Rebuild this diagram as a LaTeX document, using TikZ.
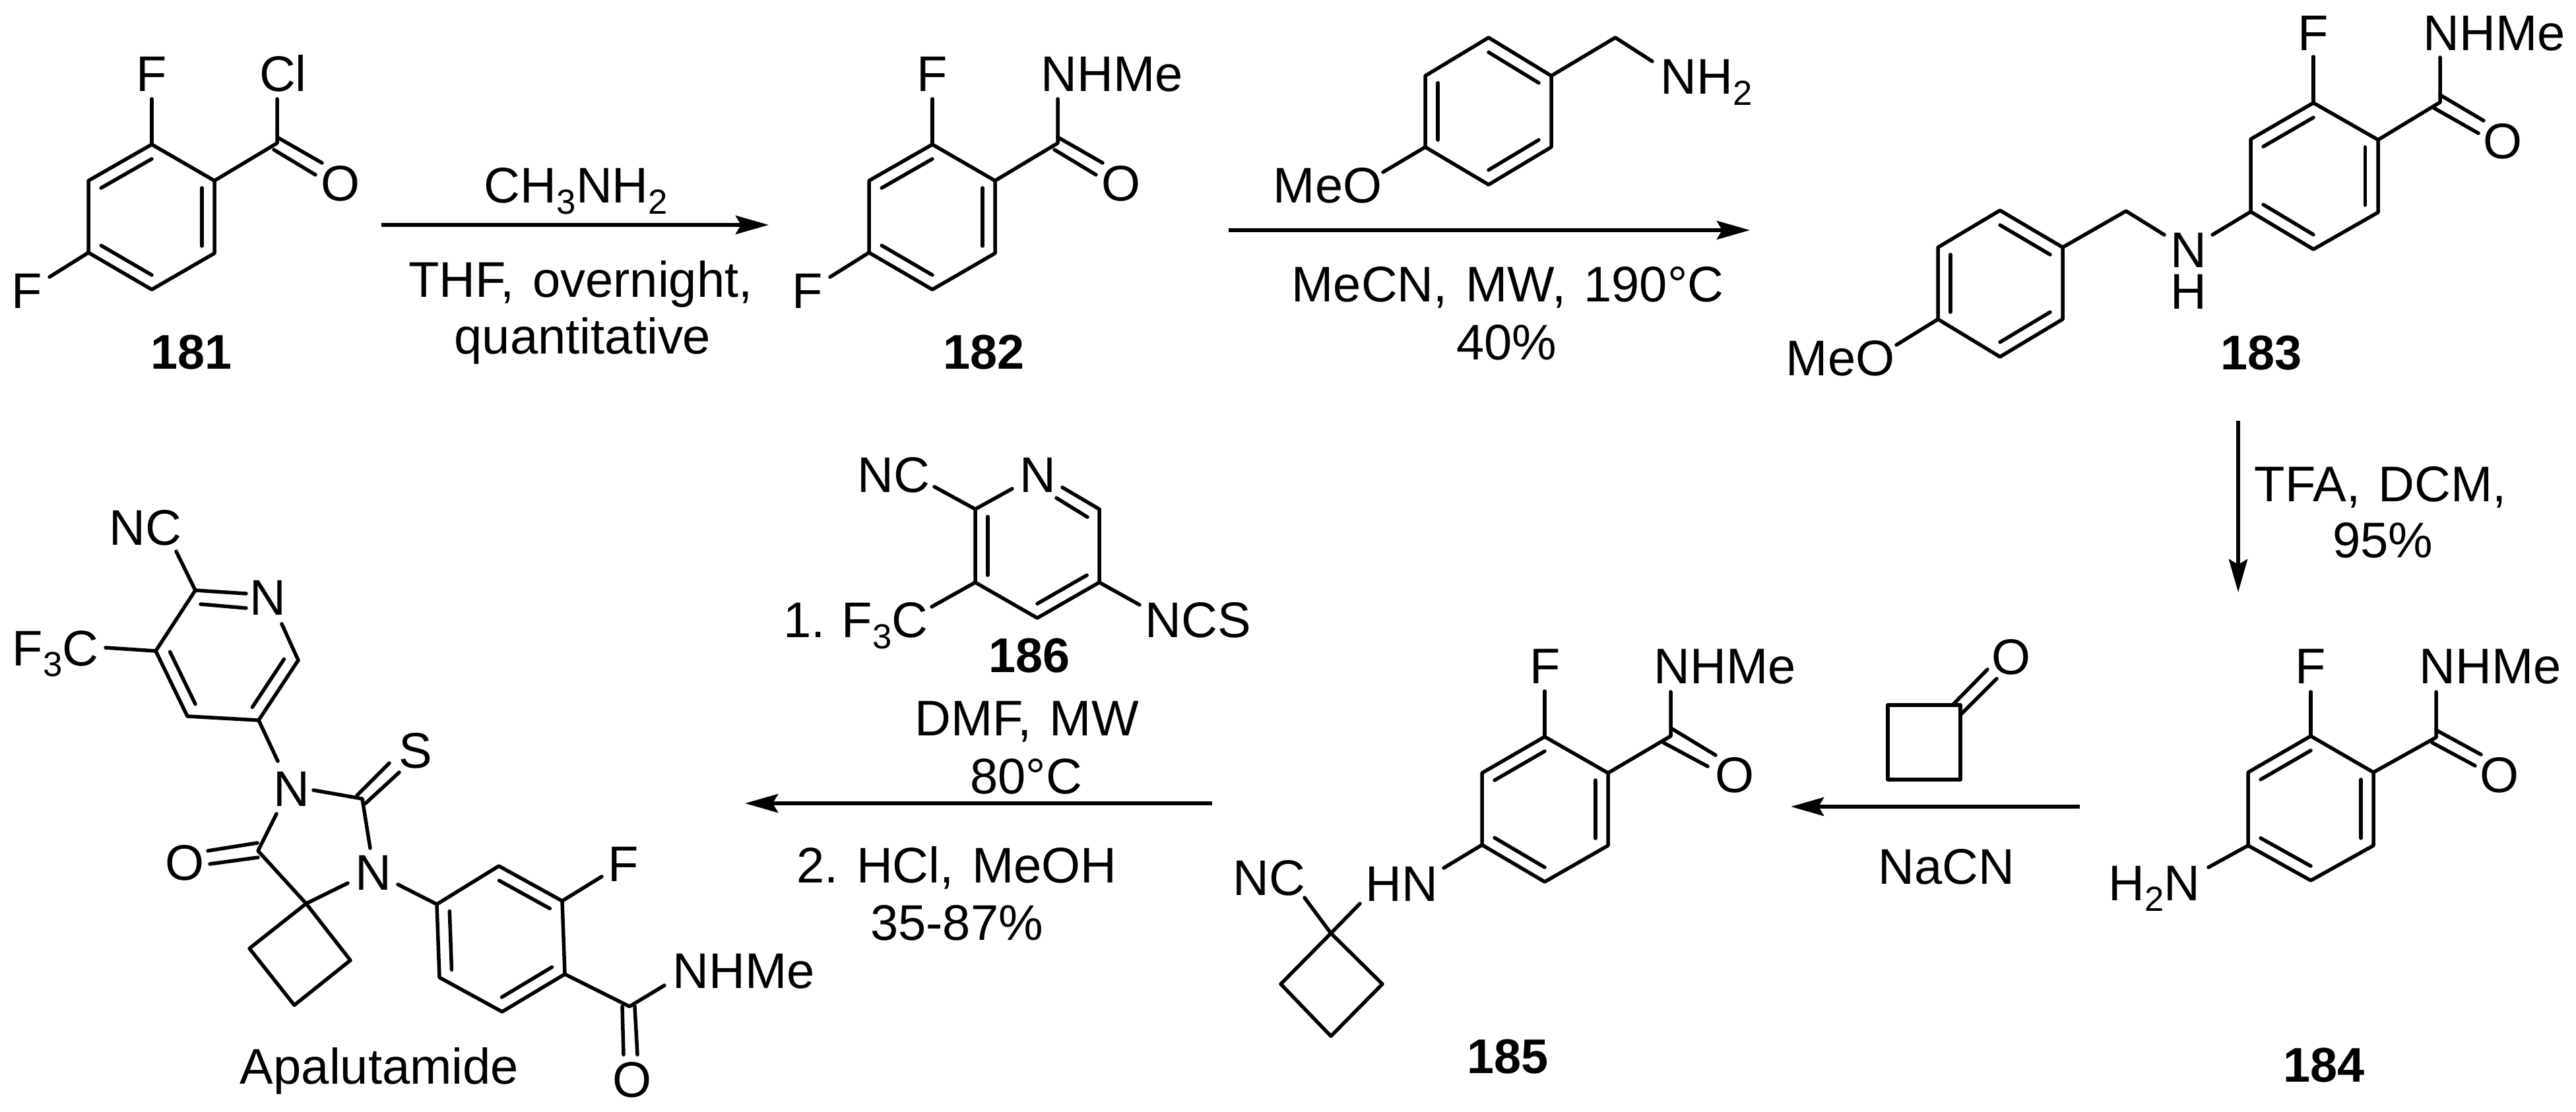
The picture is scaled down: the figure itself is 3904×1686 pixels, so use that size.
\documentclass[tikz,border=0pt]{standalone}
\usepackage{fontspec}
\setmainfont{Liberation Sans}
\usetikzlibrary{arrows.meta,calc}

\tikzset{
	bond/.style={line width=0.055cm, line cap=round, line join=round},
	rxn/.style={line width=0.06cm, -{Stealth[length=0.5cm,width=0.28cm,inset=0.08cm]}},
	txt/.style={inner sep=0pt, anchor=base, font=\fontsize{21.6}{21.6}\selectfont},
	txtl/.style={txt, anchor=base west, xshift=-0.05cm},
	cpd/.style={txt, font=\fontsize{21}{21}\selectfont\bfseries}
}
\newcommand{\sbs}[1]{\raisebox{-0.22em}{\fontsize{15}{15}\selectfont #1}}
\newcommand{\gp}{\hspace{0.36em}}
% six ring atoms, clockwise from the top
\newcommand{\hexa}[7]{
	\coordinate (#11) at (#2); \coordinate (#12) at (#3); \coordinate (#13) at (#4);
	\coordinate (#14) at (#5); \coordinate (#15) at (#6); \coordinate (#16) at (#7);
	\coordinate (#1c) at ($(#11)!0.5!(#14)$);
}
\newcommand{\ringbonds}[1]{\draw[bond] (#11) -- (#12) -- (#13) -- (#14) -- (#15) -- (#16) -- cycle;}
\newcommand{\inner}[3]{\draw[bond] ($(#1#2)!0.2!(#1c)$) -- ($(#1#3)!0.2!(#1c)$);}

\begin{document}
\begin{tikzpicture}[x=0.01cm, y=-0.01cm]
	\useasboundingbox (0,0) rectangle (3904,1686);

	% 181
	\hexa{a}{230,219}{325,274}{325,384}{230,439}{134,383}{134,274}
	\ringbonds{a}
	\inner{a}{6}{1} \inner{a}{2}{3} \inner{a}{4}{5}
	\node[txt] (aF) at (230,139) {F};
	\node[txt] (aCl) at (429,139) {Cl};
	\node[txt] (aO) at (516,305) {O};
	\node[txt] (aF2) at (41,468) {F};
	\node[cpd] (n181) at (290,560) {181};
	\coordinate (aCO) at (420,217);
	\coordinate (aFe) at (230,150); \coordinate (aCle) at (420,150); \coordinate (aF2e) at (75,420);
	\coordinate (aO1s) at (420,208); \coordinate (aO1e) at (488,247);
	\coordinate (aO2s) at (415,227); \coordinate (aO2e) at (478,265);
	\draw[bond] (a1) -- (aFe);
	\draw[bond] (a5) -- (aF2e);
	\draw[bond] (a2) -- (aCO) -- (aCle);
	\draw[bond] (aO1s) -- (aO1e);
	\draw[bond] (aO2s) -- (aO2e);

	\coordinate (r1s) at (578,341); \coordinate (r1e) at (1165,341);
	\draw[rxn] (r1s) -- (r1e);
	\node[txt] (r1top) at (873,308) {CH\sbs{3}NH\sbs{2}};
	\node[txt] (r1mid) at (880,451) {THF,\gp overnight,};
	\node[txt] (r1low) at (883,537) {quantitative};

	% 182
	\hexa{b}{1413,219}{1508,274}{1508,384}{1413,439}{1317,383}{1317,274}
	\ringbonds{b}
	\inner{b}{6}{1} \inner{b}{2}{3} \inner{b}{4}{5}
	\node[txt] (bF) at (1413,139) {F};
	\node[txtl] (bNH) at (1582,139) {NHMe};
	\node[txt] (bO) at (1699,305) {O};
	\node[txt] (bF2) at (1224,468) {F};
	\node[cpd] (n182) at (1491,560) {182};
	\coordinate (bCO) at (1603,217);
	\coordinate (bFe) at (1413,150); \coordinate (bNe) at (1603,150); \coordinate (bF2e) at (1258,420);
	\coordinate (bO1s) at (1603,208); \coordinate (bO1e) at (1671,247);
	\coordinate (bO2s) at (1598,227); \coordinate (bO2e) at (1661,265);
	\draw[bond] (b1) -- (bFe);
	\draw[bond] (b5) -- (bF2e);
	\draw[bond] (b2) -- (bCO) -- (bNe);
	\draw[bond] (bO1s) -- (bO1e);
	\draw[bond] (bO2s) -- (bO2e);

	% amine over the second arrow
	\hexa{m}{2256,57}{2351,115}{2351,223}{2256,280}{2160,223}{2160,115}
	\ringbonds{m}
	\inner{m}{1}{2} \inner{m}{3}{4} \inner{m}{5}{6}
	\node[txtl] (mNH) at (2521,143) {NH\sbs{2}};
	\node[txtl] (mMeO) at (1934,308) {MeO};
	\coordinate (mCH) at (2448,57); \coordinate (mNe) at (2504,93); \coordinate (mOe) at (2096,261);
	\draw[bond] (m2) -- (mCH) -- (mNe);
	\draw[bond] (m5) -- (mOe);

	\coordinate (r2s) at (1862,349); \coordinate (r2e) at (2652,349);
	\draw[rxn] (r2s) -- (r2e);
	\node[txt] (r2mid) at (2285,458) {MeCN,\gp MW,\gp 190°C};
	\node[txt] (r2low) at (2283,546) {40\%};

	% 183
	\hexa{c}{3506,156}{3604,212}{3604,322}{3506,378}{3411,321}{3411,211}
	\ringbonds{c}
	\inner{c}{6}{1} \inner{c}{2}{3} \inner{c}{4}{5}
	\hexa{d}{3031,319}{3126,375}{3126,484}{3031,541}{2937,484}{2937,375}
	\ringbonds{d}
	\inner{d}{1}{2} \inner{d}{3}{4} \inner{d}{5}{6}
	\node[txt] (cF) at (3506,77) {F};
	\node[txtl] (cNH) at (3677,77) {NHMe};
	\node[txt] (cO) at (3793,241) {O};
	\node[txt] (cN) at (3317,406) {N};
	\node[txt] (cH) at (3317,469) {H};
	\node[txtl] (dMeO) at (2711,570) {MeO};
	\node[cpd] (n183) at (3427,561) {183};
	\coordinate (cCO) at (3698,155);
	\coordinate (cFe) at (3506,86); \coordinate (cNe) at (3698,87);
	\coordinate (cO1s) at (3698,144); \coordinate (cO1e) at (3764,183);
	\coordinate (cO2s) at (3689,164); \coordinate (cO2e) at (3756,202);
	\coordinate (cN1) at (3353,356); \coordinate (cN2) at (3280,356);
	\coordinate (cCH) at (3222,320); \coordinate (dOe) at (2874,523);
	\draw[bond] (c1) -- (cFe);
	\draw[bond] (c2) -- (cCO) -- (cNe);
	\draw[bond] (cO1s) -- (cO1e);
	\draw[bond] (cO2s) -- (cO2e);
	\draw[bond] (c5) -- (cN1);
	\draw[bond] (cN2) -- (cCH) -- (d2);
	\draw[bond] (d5) -- (dOe);

	\coordinate (r3s) at (3392,638); \coordinate (r3e) at (3392,898);
	\draw[rxn] (r3s) -- (r3e);
	\node[txtl] (r3top) at (3421,761) {TFA,\gp DCM,};
	\node[txt] (r3low) at (3611,846) {95\%};

	% 184
	\hexa{e}{3502,1116}{3597,1171}{3597,1282}{3502,1335}{3407,1282}{3407,1171}
	\ringbonds{e}
	\inner{e}{6}{1} \inner{e}{2}{3} \inner{e}{4}{5}
	\node[txt] (eF) at (3502,1036) {F};
	\node[txtl] (eNH) at (3671,1036) {NHMe};
	\node[txt] (eO) at (3788,1201) {O};
	\node[txtl] (eH2N) at (3200,1365) {H\sbs{2}N};
	\node[cpd] (n184) at (3522,1640) {184};
	\coordinate (eCO) at (3692,1118);
	\coordinate (eFe) at (3502,1049); \coordinate (eNe) at (3692,1049); \coordinate (eNb) at (3347,1315);
	\coordinate (eO1s) at (3692,1107); \coordinate (eO1e) at (3760,1144);
	\coordinate (eO2s) at (3686,1126); \coordinate (eO2e) at (3751,1161);
	\draw[bond] (e1) -- (eFe);
	\draw[bond] (e2) -- (eCO) -- (eNe);
	\draw[bond] (eO1s) -- (eO1e);
	\draw[bond] (eO2s) -- (eO2e);
	\draw[bond] (e5) -- (eNb);

	% cyclobutanone over the fourth arrow
	\coordinate (q1) at (2861,1069); \coordinate (q2) at (2971,1069);
	\coordinate (q3) at (2971,1182); \coordinate (q4) at (2861,1182);
	\draw[bond] (q1) -- (q2) -- (q3) -- (q4) -- cycle;
	\node[txt] (qO) at (3048,1022) {O};
	\coordinate (qO1s) at (2959,1069); \coordinate (qO1e) at (3012,1015);
	\coordinate (qO2s) at (2971,1084); \coordinate (qO2e) at (3026,1029);
	\draw[bond] (qO1s) -- (qO1e);
	\draw[bond] (qO2s) -- (qO2e);

	\coordinate (r4s) at (3152,1223); \coordinate (r4e) at (2714,1223);
	\draw[rxn] (r4s) -- (r4e);
	\node[txt] (r4low) at (2950,1340) {NaCN};

	% 185
	\hexa{f}{2341,1117}{2437,1172}{2437,1282}{2341,1337}{2246,1281}{2246,1172}
	\ringbonds{f}
	\inner{f}{6}{1} \inner{f}{2}{3} \inner{f}{4}{5}
	\node[txt] (fF) at (2342,1036) {F};
	\node[txtl] (fNH) at (2511,1036) {NHMe};
	\node[txt] (fO) at (2629,1201) {O};
	\node[txtl] (fHN) at (2074,1366) {HN};
	\node[txtl] (fNC) at (1873,1357) {NC};
	\node[cpd] (n185) at (2285,1627) {185};
	\coordinate (fCO) at (2532,1116);
	\coordinate (fFe) at (2341,1048); \coordinate (fNe) at (2532,1049); \coordinate (fNb) at (2188,1316);
	\coordinate (fO1s) at (2534,1105); \coordinate (fO1e) at (2600,1145);
	\coordinate (fO2s) at (2521,1126); \coordinate (fO2e) at (2588,1162);
	\coordinate (s1) at (2017,1415); \coordinate (s2) at (2095,1492);
	\coordinate (s3) at (2017,1571); \coordinate (s4) at (1941,1492);
	\coordinate (fCe) at (1977,1361); \coordinate (fHe) at (2061,1370);
	\draw[bond] (f1) -- (fFe);
	\draw[bond] (f2) -- (fCO) -- (fNe);
	\draw[bond] (fO1s) -- (fO1e);
	\draw[bond] (fO2s) -- (fO2e);
	\draw[bond] (f5) -- (fNb);
	\draw[bond] (s1) -- (s2) -- (s3) -- (s4) -- cycle;
	\draw[bond] (s1) -- (fCe);
	\draw[bond] (s1) -- (fHe);

	% 186 over the last arrow
	\hexa{g}{1572,720}{1666,772}{1666,883}{1572,937}{1478,883}{1478,772}
	\draw[bond] (g2) -- (g3) -- (g4) -- (g5) -- (g6);
	\inner{g}{5}{6} \inner{g}{3}{4}
	\node[txtl] (gNC) at (1304,747) {NC};
	\node[txtl] (gN) at (1550,747) {N};
	\node[txtl] (r5one) at (1192,967) {1.};
	\node[txtl] (gF3C) at (1280,967) {F\sbs{3}C};
	\node[txtl] (gNCS) at (1740,967) {NCS};
	\node[cpd] (n186) at (1560,1019) {186};
	\coordinate (gN1) at (1534,741); \coordinate (gN2) at (1610,739);
	\coordinate (gN3) at (1601,755); \coordinate (gN4) at (1648,784);
	\coordinate (gCe) at (1416,738); \coordinate (gFe) at (1412,920); \coordinate (gSe) at (1727,917);
	\draw[bond] (g6) -- (gN1);
	\draw[bond] (g2) -- (gN2);
	\draw[bond] (gN3) -- (gN4);
	\draw[bond] (g6) -- (gCe);
	\draw[bond] (g5) -- (gFe);
	\draw[bond] (g3) -- (gSe);

	\coordinate (r5s) at (1837,1218); \coordinate (r5e) at (1129,1218);
	\draw[rxn] (r5s) -- (r5e);
	\node[txt] (r5a) at (1556,1115) {DMF,\gp MW};
	\node[txt] (r5b) at (1555,1203) {80°C};
	\node[txt] (r5c) at (1450,1338) {2.\gp HCl,\gp MeOH};
	\node[txt] (r5d) at (1450,1425) {35-87\%};

	% Apalutamide
	\coordinate (h2) at (296,895); \coordinate (h3) at (236,987); \coordinate (h4) at (284,1086);
	\coordinate (h5) at (392,1092); \coordinate (h6) at (452,1001);
	\coordinate (hc) at ($(h2)!0.5!(h5)$);
	\draw[bond] (h2) -- (h3) -- (h4) -- (h5) -- (h6);
	\inner{h}{3}{4} \inner{h}{5}{6}
	\node[txtl] (hNC) at (170,827) {NC};
	\node[txtl] (hN) at (383,933) {N};
	\node[txtl] (hF3C) at (23,1009) {F\sbs{3}C};
	\node[txtl] (iN3) at (419,1222) {N};
	\node[txt] (iS) at (630,1164) {S};
	\node[txtl] (iN1) at (543,1349) {N};
	\node[txt] (iO) at (280,1334) {O};
	\coordinate (hCe) at (267,836); \coordinate (hFe) at (160,982);
	\coordinate (hN1) at (373,900); \coordinate (hN2) at (304,916); \coordinate (hN3) at (373,922);
	\coordinate (hN4) at (427,946); \coordinate (hN5) at (421,1154);
	\draw[bond] (h2) -- (hCe);
	\draw[bond] (h3) -- (hFe);
	\draw[bond] (h2) -- (hN1);
	\draw[bond] (hN2) -- (hN3);
	\draw[bond] (h6) -- (hN4);
	\draw[bond] (h5) -- (hN5);
	% hydantoin and spiro ring
	\coordinate (iCS) at (549,1211); \coordinate (iCO) at (391,1290); \coordinate (iSp) at (464,1370);
	\coordinate (i3a) at (475,1198); \coordinate (i3b) at (419,1234);
	\coordinate (i1a) at (561,1286); \coordinate (i1b) at (527,1339); \coordinate (i1c) at (603,1341);
	\coordinate (iS1s) at (541,1206); \coordinate (iS1e) at (590,1157);
	\coordinate (iS2s) at (554,1218); \coordinate (iS2e) at (605,1171);
	\coordinate (iO1s) at (390,1278); \coordinate (iO1e) at (315,1290);
	\coordinate (iO2s) at (391,1300); \coordinate (iO2e) at (318,1310);
	\coordinate (t2) at (531,1456); \coordinate (t3) at (446,1524); \coordinate (t4) at (378,1438);
	\draw[bond] (i3a) -- (iCS) -- (i1a);
	\draw[bond] (i3b) -- (iCO) -- (iSp) -- (i1b);
	\draw[bond] (iS1s) -- (iS1e);
	\draw[bond] (iS2s) -- (iS2e);
	\draw[bond] (iO1s) -- (iO1e);
	\draw[bond] (iO2s) -- (iO2e);
	\draw[bond] (iSp) -- (t2) -- (t3) -- (t4) -- cycle;
	% aryl ring
	\hexa{k}{756,1313}{852,1366}{856,1477}{761,1534}{666,1482}{662,1371}
	\ringbonds{k}
	\inner{k}{1}{2} \inner{k}{3}{4} \inner{k}{5}{6}
	\node[txtl] (kF) at (926,1336) {F};
	\node[txtl] (kNH) at (1024,1498) {NHMe};
	\node[txt] (kO) at (958,1663) {O};
	\node[txt] (napa) at (575,1643) {Apalutamide};
	\coordinate (kCO) at (954,1526); \coordinate (kFe) at (912,1329); \coordinate (kNe) at (1007,1494);
	\coordinate (kO1s) at (943,1526); \coordinate (kO1e) at (945,1599);
	\coordinate (kO2s) at (962,1526); \coordinate (kO2e) at (966,1599);
	\draw[bond] (i1c) -- (k6);
	\draw[bond] (k2) -- (kFe);
	\draw[bond] (k3) -- (kCO) -- (kNe);
	\draw[bond] (kO1s) -- (kO1e);
	\draw[bond] (kO2s) -- (kO2e);
\end{tikzpicture}
\end{document}
